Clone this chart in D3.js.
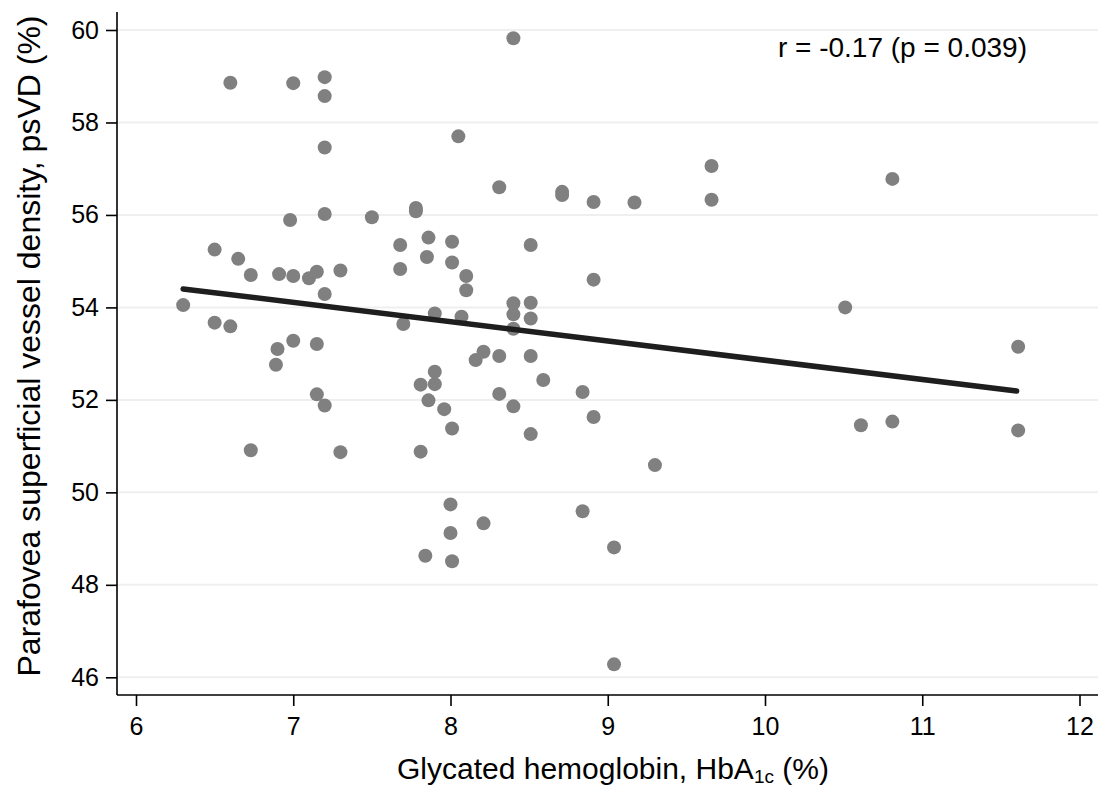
<!DOCTYPE html>
<html>
<head>
<meta charset="utf-8">
<script src="https://cdn.jsdelivr.net/npm/d3@7"></script>
<style>
  body { margin: 0; background: #fff; }
  text { font-family: "Liberation Sans", Arial, sans-serif; fill: #000; }
</style>
</head>
<body>
<svg width="1112" height="789"></svg>
<script>
// HbA1c (%) of each eye
const hba1c = [
    6.30, 6.50, 6.50, 6.60, 6.60, 6.65, 6.73, 6.73, 6.90, 6.89,
    6.91, 7.00, 6.98, 7.00, 7.00, 7.10, 7.15, 7.15, 7.15, 7.20,
    7.20, 7.20, 7.20, 7.20, 7.20, 7.30, 7.30, 7.50, 7.68, 7.68,
    7.70, 7.78, 7.78, 7.81, 7.81, 7.84, 7.86, 7.85, 7.86, 7.90,
    7.90, 7.90, 7.96, 8.01, 8.01, 8.01, 8.00, 8.00, 8.01, 8.05,
    8.07, 8.10, 8.10, 8.16, 8.21, 8.21, 8.31, 8.31, 8.31, 8.40,
    8.40, 8.40, 8.40, 8.40, 8.51, 8.51, 8.51, 8.51, 8.51, 8.59,
    8.71, 8.71, 8.84, 8.84, 8.91, 8.91, 8.91, 9.04, 9.04, 9.17,
    9.30, 9.66, 9.66, 10.51, 10.61, 10.81, 10.81, 11.61, 11.61
];
// parafovea superficial vessel density (%)
const psvd = [
    54.05, 55.25, 53.67, 58.86, 53.59, 55.05, 54.70, 50.91, 53.10, 52.76,
    54.72, 58.85, 55.89, 54.68, 53.28, 54.63, 54.77, 53.21, 52.12, 58.98,
    58.57, 57.46, 56.02, 54.29, 51.88, 54.80, 50.87, 55.95, 55.35, 54.83,
    53.64, 56.15, 56.08, 52.33, 50.88, 48.63, 55.51, 55.09, 51.99, 53.87,
    52.61, 52.34, 51.80, 55.42, 54.97, 51.38, 49.74, 49.12, 48.51, 57.70,
    53.80, 54.68, 54.37, 52.86, 53.04, 49.33, 56.60, 52.95, 52.13, 59.82,
    54.09, 53.85, 53.54, 51.86, 55.35, 54.10, 53.76, 52.95, 51.26, 52.43,
    56.50, 56.43, 52.17, 49.59, 56.28, 54.60, 51.63, 48.81, 46.28, 56.27,
    50.59, 57.06, 56.33, 54.00, 51.45, 56.78, 51.53, 53.15, 51.34
];
// fitted line, read at its two ends
const fitX = [6.3, 11.6];
const fitY = [54.40, 52.19];

const xTicks = [6, 7, 8, 9, 10, 11, 12];
const yTicks = [46, 48, 50, 52, 54, 56, 58, 60];
const annotation = "r = -0.17 (p = 0.039)";

const svg = d3.select("svg");
const plotLeft = 117, plotRight = 1098, plotTop = 12, plotBottom = 695;

let x = d3.scaleLinear().domain([6, 12]).range([136, 1079.5]);
let y = d3.scaleLinear().domain([46, 60]).range([677.3, 30]);

// grid
svg.append("g")
    .selectAll("line")
    .data(yTicks)
    .join("line")
    .attr("x1", plotLeft).attr("x2", plotRight)
    .attr("y1", d => y(d)).attr("y2", d => y(d))
    .style("stroke", "#efefef")
    .style("stroke-width", 2);

// y axis
let yAxis = svg.append("g")
    .attr("transform", `translate(${plotLeft},0)`)
    .call(d3.axisLeft(y).tickValues(yTicks).tickFormat(d3.format("d"))
        .tickSize(11).tickPadding(7).tickSizeOuter(0));
yAxis.select(".domain").attr("d", `M0,${plotTop}V${plotBottom}`);

// x axis
let xAxis = svg.append("g")
    .attr("transform", `translate(0,${plotBottom})`)
    .call(d3.axisBottom(x).tickValues(xTicks).tickFormat(d3.format("d"))
        .tickSize(11).tickPadding(11).tickSizeOuter(0));
xAxis.select(".domain").attr("d", `M${plotLeft},0H${plotRight}`);

[yAxis, xAxis].forEach(a => {
    a.attr("font-size", null).attr("font-family", null);
    a.selectAll("path, line").style("stroke", "#000").style("stroke-width", 1.6);
    a.selectAll("text").style("font-size", "25px");
});

// points
svg.append("g")
    .selectAll("circle")
    .data(d3.zip(hba1c, psvd))
    .join("circle")
    .attr("cx", d => x(d[0]))
    .attr("cy", d => y(d[1]))
    .attr("r", 7)
    .style("fill", "#808080");

// fit
svg.append("path")
    .datum(d3.zip(fitX, fitY))
    .attr("d", d3.line().x(d => x(d[0])).y(d => y(d[1])))
    .style("stroke", "#1e1e1e")
    .style("stroke-width", 5.5)
    .style("stroke-linecap", "round")
    .style("fill", "none");

// annotation
svg.append("text")
    .attr("x", 1027).attr("y", 57)
    .attr("text-anchor", "end")
    .style("font-size", "28px")
    .text(annotation);

// axis titles
let xt = svg.append("text")
    .attr("x", 613).attr("y", 779)
    .attr("text-anchor", "middle")
    .style("font-size", "30px");
xt.append("tspan").text("Glycated hemoglobin, HbA");
xt.append("tspan").text("1c").attr("dy", 4).style("font-size", "19px");
xt.append("tspan").text(" (%)").attr("dy", -4);

svg.append("text")
    .attr("transform", "translate(40,346) rotate(-90)")
    .attr("text-anchor", "middle")
    .style("font-size", "32px")
    .text("Parafovea superficial vessel density, psVD (%)");
</script>
</body>
</html>
